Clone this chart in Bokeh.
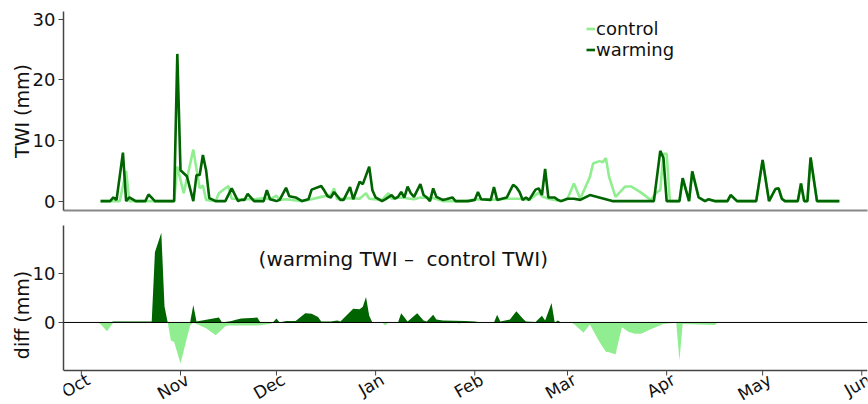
import math
from datetime import datetime
import pandas as pd
from bokeh.plotting import figure
from bokeh.layouts import column
from bokeh.models import (Range1d, Legend, LegendItem, Span, Label, FixedTicker)
from bokeh.embed import file_html
from bokeh.resources import INLINE

FONT = "DejaVu Sans"

# ---------------- data ----------------
warming_dates = [
    "2015-10-07", "2015-10-10", "2015-10-11", "2015-10-12", "2015-10-14", "2015-10-15",
    "2015-10-16", "2015-10-18", "2015-10-21", "2015-10-22", "2015-10-24", "2015-10-30",
    "2015-10-31", "2015-11-01", "2015-11-03", "2015-11-05", "2015-11-06", "2015-11-07",
    "2015-11-08", "2015-11-09", "2015-11-10", "2015-11-12", "2015-11-15", "2015-11-17",
    "2015-11-19", "2015-11-20", "2015-11-21", "2015-11-22", "2015-11-24", "2015-11-27",
    "2015-11-28", "2015-11-29", "2015-12-01", "2015-12-02", "2015-12-04", "2015-12-05",
    "2015-12-07", "2015-12-09", "2015-12-11", "2015-12-12", "2015-12-15", "2015-12-16",
    "2015-12-17", "2015-12-18", "2015-12-19", "2015-12-21", "2015-12-22", "2015-12-24",
    "2015-12-25", "2015-12-27", "2015-12-28", "2015-12-30", "2015-12-31", "2016-01-01",
    "2016-01-03", "2016-01-04", "2016-01-06", "2016-01-07", "2016-01-08", "2016-01-09",
    "2016-01-10", "2016-01-11", "2016-01-12", "2016-01-13", "2016-01-15", "2016-01-16",
    "2016-01-17", "2016-01-18", "2016-01-19", "2016-01-20", "2016-01-22", "2016-01-23",
    "2016-01-25", "2016-01-26", "2016-01-30", "2016-02-01", "2016-02-02", "2016-02-03",
    "2016-02-06", "2016-02-07", "2016-02-08", "2016-02-11", "2016-02-13", "2016-02-14",
    "2016-02-15", "2016-02-16", "2016-02-17", "2016-02-18", "2016-02-20", "2016-02-21",
    "2016-02-22", "2016-02-23", "2016-02-24", "2016-02-26", "2016-02-27", "2016-02-28",
    "2016-03-01", "2016-03-03", "2016-03-05", "2016-03-08", "2016-03-15", "2016-03-28",
    "2016-03-30", "2016-03-31", "2016-04-01", "2016-04-05", "2016-04-06", "2016-04-08",
    "2016-04-09", "2016-04-11", "2016-04-13", "2016-04-14", "2016-04-16", "2016-04-20",
    "2016-04-21", "2016-04-23", "2016-04-29", "2016-05-01", "2016-05-03", "2016-05-05",
    "2016-05-06", "2016-05-07", "2016-05-08", "2016-05-12", "2016-05-13", "2016-05-14",
    "2016-05-15", "2016-05-16", "2016-05-18", "2016-05-25",
]
warming_twi = [
    0, 0, 0.6, 0.2, 8.0, 0,
    0.6, 0, 0, 1.1, 0, 0,
    24.3, 5.1, 4.1, 0, 4.3, 4.3,
    7.6, 5.1, 0.5, 0, 0, 2.1,
    0, 0.2, 0.2, 1.2, 0, 0,
    1.8, 0.3, 0, 0.2, 2.2, 0.8,
    0.6, 0, 0.3, 1.9, 2.5, 1.7,
    0.8, 0.6, 1.5, 0.2, 0.2, 2.3,
    0.3, 3.2, 2.8, 5.7, 1.8, 0.6,
    0, 0.3, 1.0, 0.4, 0.7, 1.5,
    0.6, 2.4, 1.3, 0.7, 2.8, 1.0,
    0.6, 0, 2.1, 0.7, 0.2, 0.3,
    0.6, 0, 0, 0.2, 1.5, 0.3,
    0.2, 2.3, 0.2, 0.6, 2.7, 2.3,
    1.5, 0.2, 0.6, 0.2, 1.9, 2.1,
    1.0, 5.3, 0.6, 0.6, 0.2, 0,
    0.4, 0.4, 0.2, 1.0, 0, 0,
    8.3, 7.1, 0, 0, 3.8, 0,
    4.9, 0.6, 0, 0.3, 0, 0,
    1.0, 0, 0, 6.8, 0, 2.0,
    2.1, 0.4, 0, 0, 2.9, 0,
    0, 7.2, 0, 0,
]

control_dates = [
    "2015-10-07", "2015-10-13", "2015-10-15", "2015-10-16", "2015-10-30", "2015-10-31",
    "2015-11-02", "2015-11-05", "2015-11-07", "2015-11-08", "2015-11-09", "2015-11-12",
    "2015-11-13", "2015-11-14", "2015-11-16", "2015-11-17", "2015-11-20", "2015-11-24",
    "2015-11-27", "2015-11-29", "2015-12-01", "2015-12-02", "2015-12-04", "2015-12-09",
    "2015-12-12", "2015-12-15", "2015-12-18", "2015-12-19", "2015-12-20", "2015-12-24",
    "2015-12-27", "2015-12-29", "2015-12-30", "2016-01-03", "2016-01-05", "2016-01-06",
    "2016-01-09", "2016-01-13", "2016-01-15", "2016-01-19", "2016-01-22", "2016-01-29",
    "2016-02-02", "2016-02-06", "2016-02-11", "2016-02-15", "2016-02-18", "2016-02-21",
    "2016-02-22", "2016-02-24", "2016-02-28", "2016-03-01", "2016-03-03", "2016-03-05",
    "2016-03-08", "2016-03-09", "2016-03-11", "2016-03-12", "2016-03-13", "2016-03-14",
    "2016-03-16", "2016-03-19", "2016-03-21", "2016-03-24", "2016-03-27", "2016-03-29",
    "2016-03-30", "2016-03-31", "2016-04-01", "2016-04-02", "2016-04-05", "2016-04-06",
    "2016-04-08", "2016-04-09", "2016-04-11", "2016-04-13", "2016-04-14", "2016-04-16",
    "2016-04-20", "2016-04-21", "2016-04-23", "2016-04-29", "2016-05-01", "2016-05-03",
    "2016-05-05", "2016-05-06", "2016-05-07", "2016-05-08", "2016-05-12", "2016-05-13",
    "2016-05-14", "2016-05-15", "2016-05-16", "2016-05-18", "2016-05-25",
]
control_twi = [
    0, 0, 5.0, 0, 0, 5.7,
    1.3, 8.5, 2.1, 2.6, 0.2, 0,
    1.3, 1.7, 2.5, 0.4, 0.3, 0.3,
    0.5, 0.3, 0.9, 0.2, 0.3, 0,
    0.3, 0.7, 1.0, 2.1, 0.3, 0.5,
    0.4, 1.3, 0.4, 0.2, 1.3, 0.4,
    0.6, 0.3, 0.6, 0.5, 0, 0,
    0.3, 0.2, 0.4, 0.4, 0.2, 1.4,
    0.8, 0.4, 0, 0.4, 2.9, 0.4,
    4.0, 6.2, 6.6, 6.4, 7.1, 4.0,
    0.7, 2.4, 2.4, 1.4, 0.2, 1.5,
    1.8, 7.8, 7.8, 0, 0, 3.8,
    0, 4.9, 0.6, 0, 0.3, 0,
    0, 1.0, 0, 0, 6.8, 0,
    2.0, 2.1, 0.4, 0, 0, 2.9,
    0, 0, 7.2, 0, 0,
]

diff_pos_dates = [
    "2015-10-10", "2015-10-11", "2015-10-23", "2015-10-24", "2015-10-26", "2015-10-27",
    "2015-10-28", "2015-11-04", "2015-11-05", "2015-11-06", "2015-11-13", "2015-11-14",
    "2015-11-17", "2015-11-18", "2015-11-20", "2015-11-25", "2015-11-26", "2015-11-28",
    "2015-11-30", "2015-12-01", "2015-12-02", "2015-12-04", "2015-12-07", "2015-12-10",
    "2015-12-12", "2015-12-14", "2015-12-15", "2015-12-18", "2015-12-20", "2015-12-21",
    "2015-12-25", "2015-12-27", "2015-12-28", "2015-12-29", "2015-12-30", "2015-12-31",
    "2016-01-08", "2016-01-09", "2016-01-11", "2016-01-14", "2016-01-16", "2016-01-17",
    "2016-01-19", "2016-01-20", "2016-01-22", "2016-01-29", "2016-02-01", "2016-02-03",
    "2016-02-07", "2016-02-08", "2016-02-09", "2016-02-12", "2016-02-14", "2016-02-16",
    "2016-02-17", "2016-02-20", "2016-02-22", "2016-02-23", "2016-02-25", "2016-02-26",
    "2016-02-27", "2016-02-28",
]
diff_pos = [
    0, 0.2, 0.2, 14.4, 18.4, 3.3,
    0, 0, 3.6, 0.2, 1.0, 0,
    0.3, 0.5, 0.8, 1.0, 0, 0.1,
    0.1, 0.8, 0, 0.3, 0.3, 1.9,
    1.8, 1.1, 0.2, 0.2, 0.4, 0.2,
    2.8, 2.7, 3.2, 5.2, 1.4, 0,
    0, 1.9, 0.2, 1.9, 0.4, 0.2,
    1.6, 0.6, 0.4, 0.3, 0.2, 0,
    0, 1.6, 0.2, 0.6, 2.3, 0.8,
    0.2, 0.1, 1.4, 0.4, 4.0, 0,
    0.4, 0,
]

diff_neg_dates = [
    "2015-10-06", "2015-10-07", "2015-10-09", "2015-10-11", "2015-10-16", "2015-10-17",
    "2015-10-23", "2015-10-24", "2015-10-28", "2015-10-29", "2015-10-30", "2015-11-01",
    "2015-11-04", "2015-11-05", "2015-11-06", "2015-11-09", "2015-11-12", "2015-11-15",
    "2015-11-16", "2015-11-25", "2015-11-29", "2015-11-30", "2016-01-03", "2016-01-04",
    "2016-01-05", "2016-01-26", "2016-01-27", "2016-01-29", "2016-03-02", "2016-03-03",
    "2016-03-06", "2016-03-08", "2016-03-11", "2016-03-13", "2016-03-14", "2016-03-16",
    "2016-03-18", "2016-03-20", "2016-03-22", "2016-03-24", "2016-03-27", "2016-03-31",
    "2016-04-03", "2016-04-04", "2016-04-05", "2016-04-06", "2016-04-16", "2016-04-17",
]
diff_neg = [
    0, -0.3, -1.8, 0, 0, -0.1,
    -0.1, 0, 0, -3.7, -4.0, -8.4,
    -0.6, 0, -0.3, -1.2, -2.6, -0.8,
    -0.6, -0.6, -0.3, 0, 0, -0.6,
    0, 0, -0.2, 0, 0, -0.3,
    -2.1, -0.4, -4.0, -6.0, -6.1, -6.6,
    -1.0, -1.9, -2.3, -2.3, -1.4, -0.3,
    -0.1, -0.1, -7.8, -0.3, -0.5, 0,
]

month_ticks = ["2015-10-01", "2015-11-01", "2015-12-01", "2016-01-01", "2016-02-01",
               "2016-03-01", "2016-04-01", "2016-05-01", "2016-06-01"]
month_labels = ["Oct", "Nov", "Dec", "Jan", "Feb", "Mar", "Apr", "May", "Jun"]
top_ticks = [0, 10, 20, 30]
bottom_ticks = [0, 10]
annotation = "(warming TWI \u2013\u00a0 control TWI)"

CONTROL_C = "#90ee90"
WARMING_C = "#006400"
AXIS_C = "#444444"

wd = pd.to_datetime(warming_dates)
cd = pd.to_datetime(control_dates)
pd_ = pd.to_datetime(diff_pos_dates)
nd = pd.to_datetime(diff_neg_dates)
mt = pd.to_datetime(month_ticks)

x_range = Range1d(datetime(2015, 9, 25, 10), datetime(2016, 6, 2, 19))

# bottom panel: value limits of the diff axis; the frame is extended below them
# so that the rotated month names have room inside the 404 px window
D_BOT, D_TOP = -9.86, 19.9
D_PLOT_PX, LABEL_PX = 145, 34
u_per_px = (D_TOP - D_BOT) / D_PLOT_PX
y2_range = Range1d(D_BOT - LABEL_PX * u_per_px, D_TOP)


def style_axes(p):
    p.grid.visible = False
    p.outline_line_color = None
    for ax in (p.xaxis[0], p.yaxis[0]):
        ax.major_label_text_font = FONT
        ax.major_label_text_font_size = "18px"
        ax.major_label_text_color = "#111111"
        ax.axis_label_text_font = FONT
        ax.axis_label_text_font_size = "19px"
        ax.axis_label_text_font_style = "normal"
        ax.axis_label_text_color = "#111111"
        ax.minor_tick_line_color = None
        ax.major_tick_in = 0
        ax.major_tick_out = 5
        ax.major_tick_line_color = AXIS_C
        ax.axis_line_color = AXIS_C
        ax.axis_line_width = 1.5
        ax.major_label_standoff = 3
        ax.axis_label_standoff = -3


# ---------------- top panel ----------------
p1 = figure(width=868, height=218, x_axis_type="datetime", x_range=x_range,
            y_range=Range1d(-1.55, 31.3), output_backend="svg", toolbar_location=None,
            min_border_left=63, min_border_right=1, min_border_top=11, min_border_bottom=8)
style_axes(p1)
p1.yaxis.axis_label = "TWI (mm)"
p1.yaxis.ticker = FixedTicker(ticks=top_ticks)
p1.xaxis.ticker = FixedTicker(ticks=[])
p1.xaxis.major_tick_out = 0
p1.xaxis.major_label_standoff = 0
p1.xaxis.axis_line_color = "#888888"
p1.xaxis.axis_line_width = 2

r_c = p1.line(cd, control_twi, line_color=CONTROL_C, line_width=2.6)
r_w = p1.line(wd, warming_twi, line_color=WARMING_C, line_width=2.6)

legend = Legend(items=[LegendItem(label="control", renderers=[r_c]),
                       LegendItem(label="warming", renderers=[r_w])],
                location=(523, 150))
legend.background_fill_alpha = 0
legend.border_line_color = None
legend.glyph_width = 9
legend.glyph_height = 17
legend.label_height = 17
legend.label_text_font = FONT
legend.label_text_font_size = "18px"
legend.label_text_color = "#111111"
legend.label_standoff = 1
legend.spacing = 0
legend.padding = 0
legend.margin = 0
p1.add_layout(legend)

# ---------------- bottom panel ----------------
p2 = figure(width=868, height=186, x_axis_type="datetime", x_range=x_range,
            y_range=y2_range, output_backend="svg", toolbar_location=None,
            min_border_left=63, min_border_right=1, min_border_top=7, min_border_bottom=0)
style_axes(p2)
p2.xaxis.visible = False
p2.yaxis.axis_label = "diff (mm)"
p2.yaxis.ticker = FixedTicker(ticks=bottom_ticks)
p2.yaxis.bounds = (D_BOT, D_TOP)

p2.varea(x=pd_, y1=0, y2=diff_pos, fill_color=WARMING_C)
p2.varea(x=nd, y1=0, y2=diff_neg, fill_color=CONTROL_C)
p2.add_layout(Span(location=0, dimension="width", line_color="black", line_width=1))
p2.add_layout(Label(x=datetime(2015, 11, 25, 10), y=13.1, text=annotation,
                    text_font=FONT, text_font_size="20px", text_baseline="middle",
                    text_color="#111111"))

# date axis of the bottom panel: spine, month tick marks and rotated month names
p2.add_layout(Span(location=D_BOT, dimension="width", line_color=AXIS_C, line_width=1.5))
p2.segment(x0=mt, y0=D_BOT, x1=mt, y1=D_BOT - 5 * u_per_px, line_color=AXIS_C, line_width=1)
for t, name in zip(mt, month_labels):
    p2.add_layout(Label(x=t.to_pydatetime(), y=D_BOT, y_offset=1, x_offset=2,
                        text=name, angle=math.radians(30), text_align="right",
                        text_baseline="top", text_font=FONT, text_font_size="17px",
                        text_color="#111111"))

layout = column(p1, p2, spacing=0)
open("out.html", "w").write(file_html(layout, INLINE))
